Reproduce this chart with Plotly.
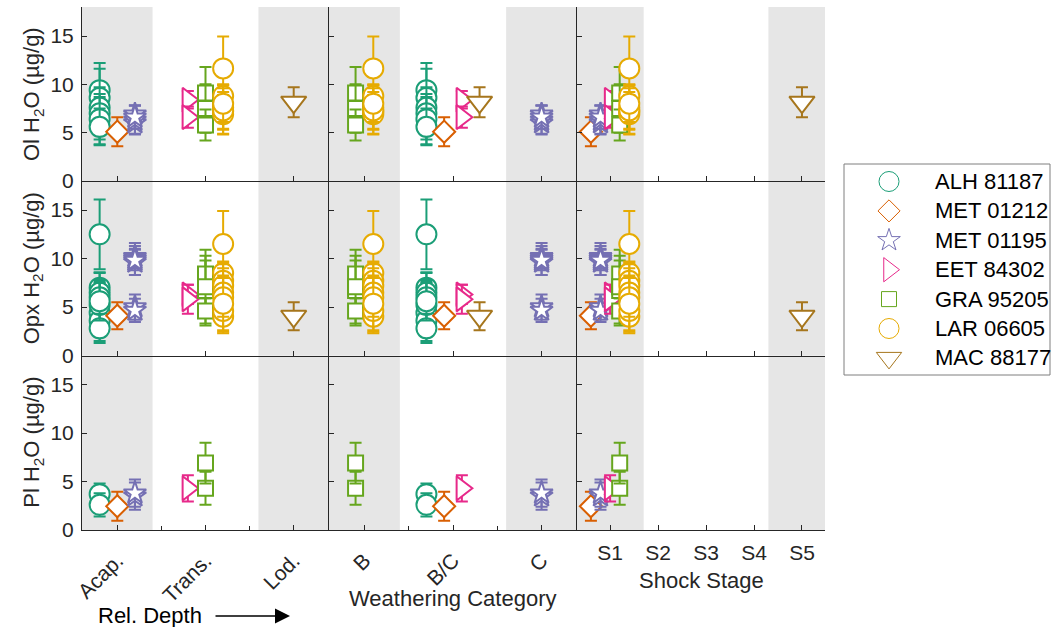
import plotly.graph_objects as go

W, H = 1053, 627
FONT = "Liberation Sans, Arial, sans-serif"
AX_COLOR = "#262626"
BAND = "#e6e6e6"

# ---- meteorites, styles and classifications ----
METEORITES = ["ALH 81187", "MET 01212", "MET 01195", "EET 84302",
              "GRA 95205", "LAR 06605", "MAC 88177"]
COLORS = ["#1b9e77", "#d95f02", "#7570b3", "#e7298a",
          "#66a61e", "#e6ab02", "#a6761d"]
SYMBOLS = ["circle", "diamond", "star", "triangle-right",
           "square", "circle", "triangle-down"]
SIZES = [20, 17, 17, 21, 15, 20, 22]

DEPTH = ["Acap.", "Acap.", "Acap.", "Trans.", "Trans.", "Trans.", "Lod."]
WEATHERING = ["B/C", "B/C", "C", "B/C", "B", "B", "B/C"]
SHOCK = [None, "S1", "S1", "S1", "S1", "S1", "S5"]

DEPTH_CATS = ["Acap.", "Trans.", "Lod."]
WEATHERING_CATS = ["B", "B/C", "C"]
SHOCK_CATS = ["S1", "S2", "S3", "S4", "S5"]

MINERALS = ["Ol", "Opx", "Pl"]

# ---- H2O contents (µg/g) and 1-sigma errors, one list per meteorite ----
OL_H2O = [
    [9.4, 8.6, 7.6, 7.0, 6.4, 5.6],
    [5.1],
    [6.0, 6.9, 6.3, 6.6],
    [8.4, 6.6],
    [9.1, 7.5, 5.8],
    [11.65, 8.8, 7.2, 6.9, 7.6, 7.3, 8.0],
    [8.15],
]
OL_ERR = [
    [2.8, 3.0, 1.1, 2.7, 2.6, 1.9],
    [1.5],
    [1.1, 0.9, 1.5, 1.2],
    [0.9, 1.1],
    [2.7, 2.5, 1.6],
    [3.3, 1.2, 2.4, 2.0, 2.3, 1.9, 1.9],
    [1.55],
]

OPX_H2O = [
    [12.5, 7.0, 6.5, 6.0, 4.4, 3.6, 5.2, 2.8, 5.6],
    [4.1],
    [10.2, 9.6, 10.0, 9.8, 5.0, 4.65],
    [6.3, 5.8],
    [8.4, 6.7, 7.1, 4.6],
    [11.5, 8.5, 7.7, 7.2, 6.5, 4.0, 4.6, 6.0, 5.35],
    [4.05],
]
OPX_ERR = [
    [3.6, 1.5, 2.1, 1.8, 1.9, 2.1, 2.3, 1.5, 2.0],
    [1.4],
    [1.4, 1.3, 1.0, 1.5, 1.3, 1.2],
    [1.0, 1.5],
    [2.5, 3.6, 2.7, 1.3],
    [3.4, 1.2, 1.9, 2.2, 2.5, 1.7, 2.0, 2.0, 2.9],
    [1.45],
]

PL_H2O = [
    [3.7, 2.6],
    [2.45],
    [3.5, 3.8],
    [4.3],
    [4.3, 6.9],
    [],
    [],
]
PL_ERR = [
    [1.1, 1.2],
    [1.5],
    [1.4, 1.4],
    [1.35],
    [1.7, 2.1],
    [],
    [],
]

VALUES = [OL_H2O, OPX_H2O, PL_H2O]
ERRORS = [OL_ERR, OPX_ERR, PL_ERR]

# ---- panel geometry (pixels) ----
COL_PX = [(82, 329), (329, 577), (577, 825)]
ROW_PX = [(7, 181), (181, 355.5), (355.5, 530)]
GROUPS = [
    dict(assign=DEPTH, cats=DEPTH_CATS, rng=[0.6, 3.4],
         bands=[(0.6, 1.4), (2.6, 3.4)], angle=-45, minor=[1.5, 2.5],
         standoff=9),
    dict(assign=WEATHERING, cats=WEATHERING_CATS, rng=[0.6, 3.4],
         bands=[(0.6, 1.4), (2.6, 3.4)], angle=-45, minor=[1.5, 2.5],
         standoff=9),
    dict(assign=SHOCK, cats=SHOCK_CATS, rng=[0.31, 5.48],
         bands=[(0.31, 1.7), (4.3, 5.48)], angle=0, minor=None,
         standoff=4),
]
SPACING = 0.2
TICK_SIZE = 21
TITLE_SIZE = 22


def px_x(p):
    return p / W


def px_y(p):
    return 1 - p / H


fig = go.Figure()
layout = dict(
    template="none",
    width=W, height=H, margin=dict(l=0, r=0, t=0, b=0, pad=0),
    paper_bgcolor="white", plot_bgcolor="rgba(0,0,0,0)",
    showlegend=False, font=dict(family=FONT, size=20, color=AX_COLOR),
)
shapes = []
annotations = []

for r, mineral in enumerate(MINERALS):
    for g, grp in enumerate(GROUPS):
        k = r * 3 + g + 1
        xs = "" if k == 1 else str(k)
        xname, yname = "x" + xs, "y" + xs
        bottom = r == len(MINERALS) - 1

        xaxis = dict(
            domain=[px_x(COL_PX[g][0]), px_x(COL_PX[g][1])],
            range=grp["rng"], anchor=yname, showgrid=False, zeroline=False,
            automargin=False,
            showline=True, linecolor=AX_COLOR, linewidth=1,
            tickmode="array", tickvals=list(range(1, len(grp["cats"]) + 1)),
            ticktext=grp["cats"], ticks="inside", ticklen=5, tickwidth=1,
            tickcolor=AX_COLOR, showticklabels=bottom,
            tickangle=grp["angle"], ticklabelstandoff=grp["standoff"],
            tickfont=dict(size=TICK_SIZE, color=AX_COLOR),
        )
        if bottom and grp["minor"]:
            xaxis["minor"] = dict(tickmode="array", tickvals=grp["minor"],
                                  ticks="inside", ticklen=4, tickwidth=1,
                                  tickcolor=AX_COLOR)
        yaxis = dict(
            domain=[px_y(ROW_PX[r][1]), px_y(ROW_PX[r][0])],
            range=[0, 18], anchor=xname, showgrid=False, zeroline=False,
            automargin=False,
            showline=True, linecolor=AX_COLOR, linewidth=1,
            tickmode="array", tickvals=[0, 5, 10, 15], ticks="inside",
            ticklen=5, tickwidth=1, tickcolor=AX_COLOR,
            showticklabels=(g == 0), ticklabelstandoff=3,
            tickfont=dict(size=TICK_SIZE, color=AX_COLOR),
        )
        layout["xaxis" + xs] = xaxis
        layout["yaxis" + xs] = yaxis

        for b0, b1 in grp["bands"]:
            shapes.append(dict(type="rect", xref=xname,
                               yref=yname + " domain", x0=b0, x1=b1,
                               y0=0, y1=1, fillcolor=BAND, line_width=0,
                               layer="below"))

        # meteorites sharing a category are spread side by side
        for ci, cat in enumerate(grp["cats"]):
            members = [m for m in range(len(METEORITES))
                       if grp["assign"][m] == cat]
            n = len(members)
            for j, m in enumerate(members):
                xpos = ci + 1 + (j - (n - 1) / 2) * SPACING
                vals = VALUES[r][m]
                errs = ERRORS[r][m]
                for v, e in zip(vals, errs):
                    fig.add_trace(go.Scatter(
                        x=[xpos], y=[v], mode="markers",
                        xaxis=xname, yaxis=yname,
                        error_y=dict(type="data", array=[e], visible=True,
                                     color=COLORS[m], thickness=2, width=6),
                        marker=dict(symbol=SYMBOLS[m], size=SIZES[m],
                                    color="white",
                                    line=dict(color=COLORS[m], width=2)),
                        hoverinfo="skip", cliponaxis=False,
                    ))

    annotations.append(dict(
        text=f"{mineral} H<sub>2</sub>O (µg/g)", xref="paper", yref="paper",
        x=px_x(33), y=px_y((ROW_PX[r][0] + ROW_PX[r][1]) / 2),
        textangle=-90, showarrow=False, xanchor="center", yanchor="middle",
        font=dict(size=TITLE_SIZE, color=AX_COLOR)))

# axis group titles
annotations += [
    dict(text="Rel. Depth", xref="paper", yref="paper", x=px_x(150),
         y=px_y(615), showarrow=False, xanchor="center", yanchor="middle",
         font=dict(size=TITLE_SIZE, color="black")),
    dict(text="", xref="paper", yref="paper", x=px_x(290), y=px_y(616),
         ax=-76, ay=0, showarrow=True, arrowhead=2, arrowsize=2,
         arrowwidth=1.5, arrowcolor="black"),
    dict(text="Weathering Category", xref="paper", yref="paper",
         x=px_x(453), y=px_y(598), showarrow=False, xanchor="center",
         yanchor="middle", font=dict(size=TITLE_SIZE, color=AX_COLOR)),
    dict(text="Shock Stage", xref="paper", yref="paper", x=px_x(701),
         y=px_y(580), showarrow=False, xanchor="center", yanchor="middle",
         font=dict(size=TITLE_SIZE, color=AX_COLOR)),
]

# ---- legend drawn in its own small axes ----
LEG = (844, 164, 1050, 375)
ROW0, ROW_STEP = 181.5, 29.4
layout["xaxis10"] = dict(domain=[px_x(LEG[0]), px_x(LEG[2])],
                         range=[LEG[0], LEG[2]], visible=False,
                         anchor="y10", fixedrange=True, automargin=False)
layout["yaxis10"] = dict(domain=[px_y(LEG[3]), px_y(LEG[1])],
                         range=[LEG[3], LEG[1]], visible=False,
                         anchor="x10", fixedrange=True, automargin=False)
shapes.append(dict(type="rect", xref="paper", yref="paper",
                   x0=px_x(LEG[0]), x1=px_x(LEG[2]), y0=px_y(LEG[3]),
                   y1=px_y(LEG[1]), line=dict(color="#7f7f7f", width=1),
                   fillcolor="white", layer="below"))
for i, name in enumerate(METEORITES):
    yy = ROW0 + i * ROW_STEP
    fig.add_trace(go.Scatter(
        x=[889], y=[yy], mode="markers", xaxis="x10", yaxis="y10",
        marker=dict(symbol=SYMBOLS[i], size=SIZES[i], color="white",
                    line=dict(color=COLORS[i], width=1)),
        hoverinfo="skip", cliponaxis=False))
    annotations.append(dict(text=name, xref="x10", yref="y10", x=933, y=yy,
                            showarrow=False, xanchor="left",
                            yanchor="middle",
                            font=dict(size=TITLE_SIZE, color="black")))

layout["shapes"] = shapes
layout["annotations"] = annotations
fig.update_layout(**layout)
fig.write_html("out.html")
